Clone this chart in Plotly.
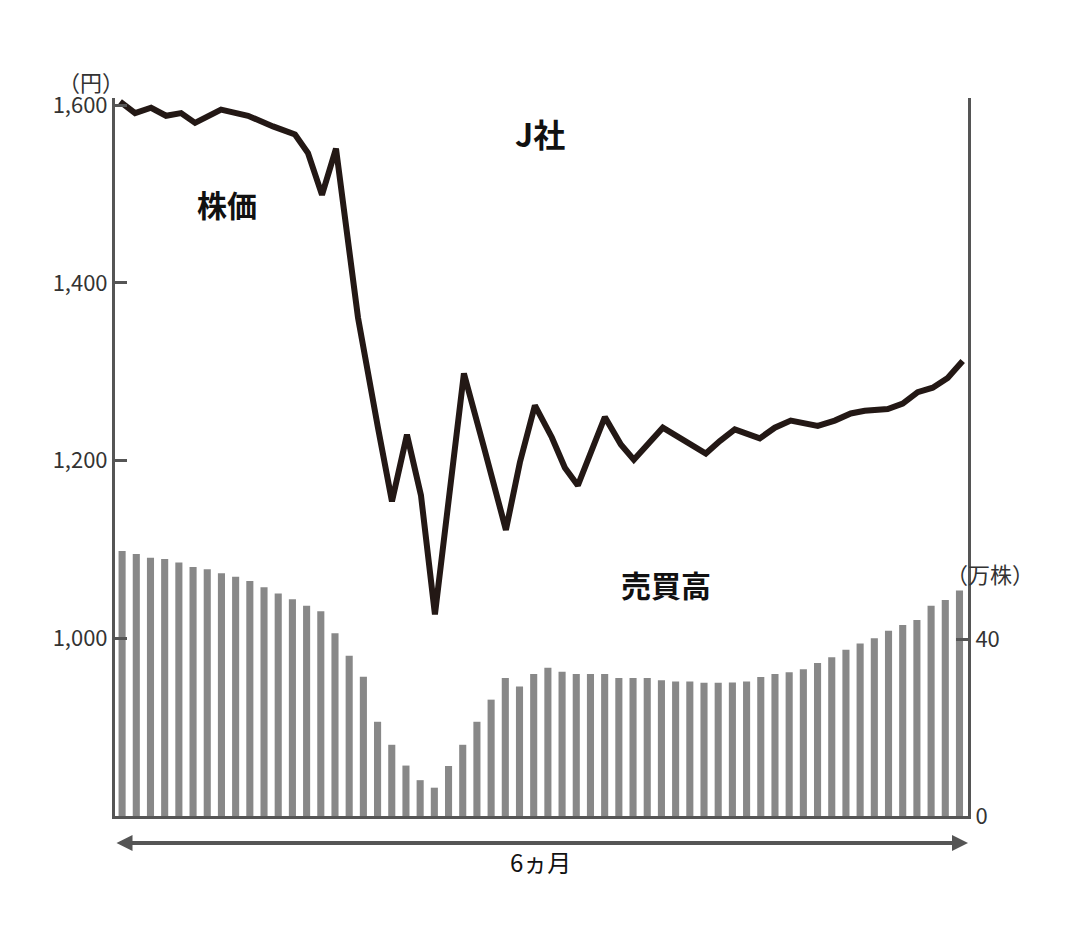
import plotly.graph_objects as go

volume = [59.9,59.2,58.4,58.1,57.3,56.3,55.8,54.9,54.1,53.1,51.7,50.3,49.0,47.5,46.3,41.3,36.2,31.5,21.3,16.1,
          11.4,8.1,6.4,11.3,16.1,21.3,26.3,31.2,29.3,32.1,
          33.5,32.6,32.1,32.1,32.1,31.2,31.2,31.2,30.7,30.4,30.4,30.1,30.1,30.2,30.4,31.4,32.1,32.5,33.2,34.6,
          35.9,37.6,39.0,40.2,41.9,43.2,44.3,47.5,48.8,51.0]
day = list(range(len(volume)))

price_px = [112,127,143,158,173,187,213,240,265,287,300,314,328,350,370,384,399,413,427,456,476,498,512,527,544,557,
            570,597,613,626,655,675,698,712,727,752,767,783,810,827,843,857,880,895,910,925,940,955]
price = [1604,1591,1597,1588,1591,1580,1595,1588,1576,1567,1546,1499,1551,1361,1237,1154,1229,1161,1027,1298,1215,1122,
         1198,1262,1226,1192,1172,1249,1218,1201,1237,1224,1208,1222,1235,1225,1237,1245,1239,1245,1253,1256,1258,1264,
         1277,1282,1293,1312]
price_day = [(p - 114) / 14.2 for p in price_px]

F = "Noto Sans CJK JP"
ax_col = "#555555"
pw, ph = 1080 - 107 - 120, 937 - 90 - 129


def px(x, y):
    return (x - 107) / pw, (937 - 129 - y) / ph


def label(x, y, text, **kw):
    X, Y = px(x, y)
    return dict(x=X, y=Y, xref="paper", yref="paper", text=text, showarrow=False, **kw)


fig = go.Figure()
fig.add_bar(x=day, y=volume, yaxis="y2", marker_color="#888888", width=0.5, marker_line_width=0)
fig.add_scatter(x=price_day, y=price, mode="lines", line=dict(color="#231815", width=6))

fig.update_layout(
    width=1080, height=937, margin=dict(l=107, r=120, t=90, b=129),
    plot_bgcolor="white", paper_bgcolor="white", showlegend=False,
    font=dict(family=F, color="#333333", size=22),
    xaxis=dict(range=[-0.5, 59.6], showticklabels=False, ticks="", showgrid=False, zeroline=False,
               showline=True, linecolor=ax_col, linewidth=3),
    yaxis=dict(range=[800, 1608], tickvals=[1000, 1200, 1400, 1600], ticktext=["1,000", "1,200", "1,400", "1,600"],
               ticks="inside", ticklen=12, tickwidth=3, tickcolor=ax_col, showgrid=False, zeroline=False,
               showline=True, linecolor=ax_col, linewidth=3),
    yaxis2=dict(range=[0, 162.3], overlaying="y", side="right", tickvals=[0, 40], ticks="inside", ticklen=12,
                tickwidth=3, tickcolor=ax_col, showgrid=False, zeroline=False, showline=True,
                linecolor=ax_col, linewidth=3),
    annotations=[
        dict(x=59.6, y=px(0, 835)[1], xref="x", yref="paper", ax=-0.5, ay=0, axref="x", ayref="pixel",
             showarrow=True, arrowside="end+start", arrowhead=2, arrowsize=0.8, arrowwidth=4, arrowcolor=ax_col, text=""),
        label(532, 873, "6ヵ月", font=dict(size=24, color="#111")),
        label(48, 55, "（円）"),
        label(532, 100, "<b>J社</b>", font=dict(size=32, color="#111")),
        label(187, 172, "<b>株価</b>", font=dict(size=30, color="#111")),
        label(705, 600, "<b>売買高</b>", font=dict(size=30, color="#111")),
        label(1028, 583, "（万株）"),
    ],
)
fig.write_html("out.html")
